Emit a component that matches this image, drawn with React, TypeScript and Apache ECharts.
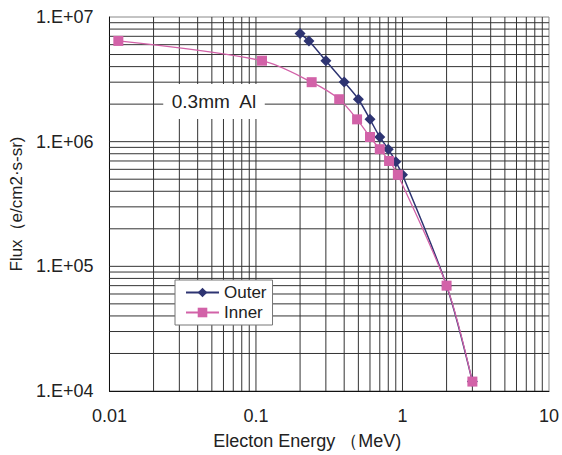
import React, { useEffect, useRef } from "react";
import * as echarts from "echarts";

const X_MIN = 0.01;
const X_MAX = 10;
const Y_MIN = 1e4;
const Y_MAX = 1e7;

// Electron energy (MeV) vs flux (e/cm2·s·sr)
const OUTER_E = [0.2, 0.23, 0.3, 0.4, 0.5, 0.6, 0.7, 0.8, 0.9, 1.0, 2, 3];
const OUTER_F = [7.36e6, 6.43e6, 4.46e6, 3.01e6, 2.19e6, 1.51e6, 1.09e6, 8.7e5, 6.9e5, 5.42e5, 7.0e4, 1.19e4];

const INNER_E = [0.0115, 0.11, 0.24, 0.37, 0.49, 0.6, 0.7, 0.81, 0.93, 2, 3];
const INNER_F = [6.43e6, 4.46e6, 3.0e6, 2.19e6, 1.51e6, 1.09e6, 8.7e5, 7.0e5, 5.42e5, 7.0e4, 1.19e4];

// grid line positions (log minor + major lines)
const GRID_X = [
  0.02, 0.03, 0.04, 0.05, 0.06, 0.07, 0.08, 0.09,
  0.1, 0.2, 0.3, 0.4, 0.5, 0.6, 0.7, 0.8, 0.9,
  1, 2, 3, 4, 5, 6, 7, 8, 9,
];
const GRID_Y = [
  2e4, 3e4, 4e4, 5e4, 6e4, 7e4, 8e4, 9e4,
  1e5, 2e5, 3e5, 4e5, 5e5, 6e5, 7e5, 8e5, 9e5,
  1e6, 2e6, 3e6, 4e6, 5e6, 6e6, 7e6, 8e6, 9e6,
];

const FONT = '"Liberation Sans", Arial, sans-serif';
const TEXT = "#222";

export default function App() {
  const ref = useRef<HTMLDivElement>(null);

  useEffect(() => {
    if (!ref.current) return;
    const chart = echarts.init(ref.current, null, { renderer: "svg" });

    const gridData = [
      ...GRID_X.map((x) => [x, Y_MIN, 0]),
      ...GRID_Y.map((y) => [X_MIN, y, 1]),
    ];

    chart.setOption({
      animation: false,
      backgroundColor: "#fff",
      textStyle: { fontFamily: FONT },
      grid: {
        left: 104,
        top: 17,
        width: 445,
        height: 376,
        show: true,
        borderColor: "#888",
        borderWidth: 1,
        backgroundColor: "transparent",
      },
      xAxis: {
        type: "log",
        logBase: 10,
        min: X_MIN,
        max: X_MAX,
        name: "Electon Energy \uFF08MeV)",
        nameLocation: "middle",
        nameGap: 41,
        nameTextStyle: { fontSize: 18, color: TEXT, fontFamily: FONT, padding: [0, 44, 0, 0] },
        axisLine: { show: true, lineStyle: { color: "#111", width: 1 } },
        axisTick: { show: false },
        splitLine: { show: false },
        axisLabel: {
          fontSize: 18,
          color: TEXT,
          fontFamily: FONT,
          margin: 16,
          formatter: (v: number) => String(v),
        },
      },
      yAxis: {
        type: "log",
        logBase: 10,
        min: Y_MIN,
        max: Y_MAX,
        name: "Flux\uFF08e/cm2\u00B7s-sr)",
        nameLocation: "middle",
        nameGap: 77,
        nameTextStyle: { fontSize: 17, color: TEXT, fontFamily: FONT },
        axisLine: { show: true, lineStyle: { color: "#111", width: 1 } },
        axisTick: { show: false },
        splitLine: { show: false },
        axisLabel: {
          fontSize: 18,
          color: TEXT,
          fontFamily: FONT,
          margin: 16,
          formatter: (v: number) =>
            "1.E+" + String(Math.round(Math.log10(v))).padStart(2, "0"),
        },
      },
      legend: {
        data: ["Outer", "Inner"],
        orient: "vertical",
        left: 175,
        top: 280,
        itemWidth: 33,
        itemHeight: 12,
        itemGap: 3,
        padding: [4, 6, 4, 10],
        backgroundColor: "#fff",
        borderColor: "#777",
        borderWidth: 1,
        borderRadius: 0,
        textStyle: { fontSize: 17, color: TEXT, fontFamily: FONT },
      },
      graphic: [
        {
          type: "text",
          x: 214,
          y: 101.5,
          z: 10,
          style: {
            text: "0.3mm  Al",
            font: '19px "Liberation Sans", Arial, sans-serif',
            fill: TEXT,
            align: "center",
            verticalAlign: "middle",
            backgroundColor: "#fff",
            padding: [8, 8, 8, 8],
          },
        },
      ],
      series: [
        {
          type: "custom",
          name: "grid",
          silent: true,
          z: 1,
          data: gridData,
          renderItem: (params: any, api: any) => {
            const cs = params.coordSys;
            const kind = api.value(2);
            const p = api.coord([api.value(0), api.value(1)]);
            if (kind === 0) {
              return {
                type: "line",
                shape: { x1: p[0], y1: cs.y, x2: p[0], y2: cs.y + cs.height },
                style: { stroke: "#333", lineWidth: 1 },
              };
            }
            return {
              type: "line",
              shape: { x1: cs.x, y1: p[1], x2: cs.x + cs.width, y2: p[1] },
              style: { stroke: "#333", lineWidth: 1 },
            };
          },
        },
        {
          name: "Outer",
          type: "line",
          z: 3,
          smooth: 0.3,
          symbol: "diamond",
          symbolSize: 11,
          itemStyle: { color: "#2E3472" },
          lineStyle: { color: "#2E3472", width: 1.5 },
          data: OUTER_E.map((e, i) => [e, OUTER_F[i]]),
        },
        {
          name: "Inner",
          type: "line",
          z: 4,
          smooth: 0.3,
          symbol: "rect",
          symbolSize: 10,
          itemStyle: { color: "#D262A8" },
          lineStyle: { color: "#D262A8", width: 1.3 },
          data: INNER_E.map((e, i) => [e, INNER_F[i]]),
        },
      ],
    });

    return () => chart.dispose();
  }, []);

  return (
    <div
      ref={ref}
      style={{ position: "fixed", left: 0, top: 0, width: 562, height: 455, background: "#fff" }}
    />
  );
}
